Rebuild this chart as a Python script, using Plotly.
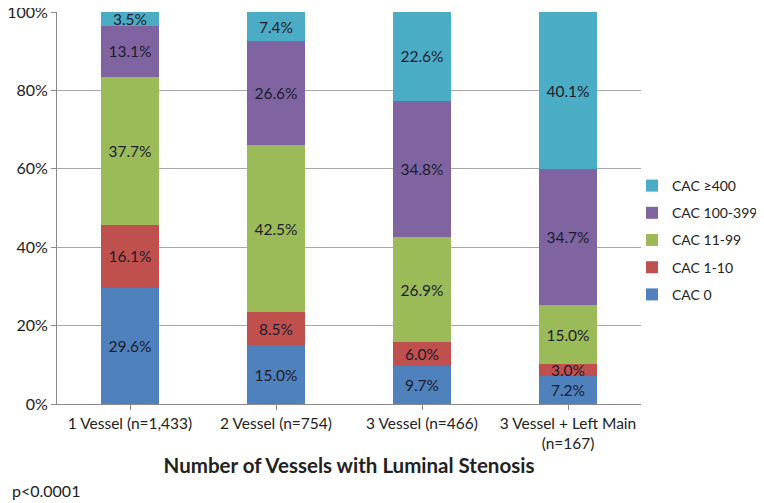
import plotly.graph_objects as go

categories = ["1 Vessel (n=1,433)", "2 Vessel (n=754)", "3 Vessel (n=466)", "3 Vessel + Left Main<br>(n=167)"]
cac0 = [29.6, 15.0, 9.7, 7.2]
cac1_10 = [16.1, 8.5, 6.0, 3.0]
cac11_99 = [37.7, 42.5, 26.9, 15.0]
cac100_399 = [13.1, 26.6, 34.8, 34.7]
cac400 = [3.5, 7.4, 22.6, 40.1]

series = [
    ("CAC 0", cac0, "#4F81BD"),
    ("CAC 1-10", cac1_10, "#C0504D"),
    ("CAC 11-99", cac11_99, "#9BBB59"),
    ("CAC 100-399", cac100_399, "#8064A2"),
    ("CAC \u2265400", cac400, "#4BACC6"),
]

FONT = "Lato, Carlito, Calibri, sans-serif"
OFF = 8  # page body offset
L, T = 57 - OFF, 12 - OFF
R, B = 764 - (641 - OFF), 503 - (404 - OFF)
PW, PH = 764 - L - R, 503 - T - B
PB = 404 - OFF  # plot bottom in figure px

fig = go.Figure()
n = len(series)
for i, (name, vals, color) in enumerate(series):
    fig.add_trace(go.Bar(
        x=categories, y=vals, name=name, legendgroup=name, legendrank=n - i,
        marker=dict(color=color, line=dict(width=0)),
        text=[f"{v:.1f}%" for v in vals], textposition="inside", insidetextanchor="middle",
        textfont=dict(color="#1c1c2c", size=15.5, family=FONT), constraintext="none",
    ))

fig.update_layout(
    barmode="stack", bargap=0.6,
    width=764, height=503,
    paper_bgcolor="white", plot_bgcolor="white",
    margin=dict(l=L, r=R, t=T, b=B, autoexpand=False),
    font=dict(family=FONT, size=15, color="#222222"),
    legend=dict(x=(648 - OFF - 16 - L) / PW, y=(PB - (240 - OFF)) / PH, yanchor="middle", xanchor="left",
                traceorder="grouped", font=dict(size=14, family=FONT),
                tracegroupgap=6, bgcolor="rgba(0,0,0,0)"),
    xaxis=dict(showline=True, linecolor="#8a8a8a", ticks="outside", tickcolor="#8a8a8a",
               ticklen=5, tickfont=dict(size=15.5), showgrid=False, automargin=False,
               title=dict(text="<b>Number of Vessels with Luminal Stenosis</b>", font=dict(size=20.5), standoff=7)),
    yaxis=dict(range=[0, 100], dtick=20, ticksuffix="%", showline=True, linecolor="#8a8a8a",
               ticks="outside", tickcolor="#8a8a8a", ticklen=5, gridcolor="#a8a8a8",
               tickfont=dict(size=16), zeroline=False, automargin=False, ticklabeloverflow="allow"),
    annotations=[dict(text="p<0.0001", x=(10 - OFF - L) / PW, y=(PB - (490 - OFF)) / PH,
                      xref="paper", yref="paper",
                      showarrow=False, xanchor="left", yanchor="middle", font=dict(size=16))],
)
fig.write_html("out.html")
